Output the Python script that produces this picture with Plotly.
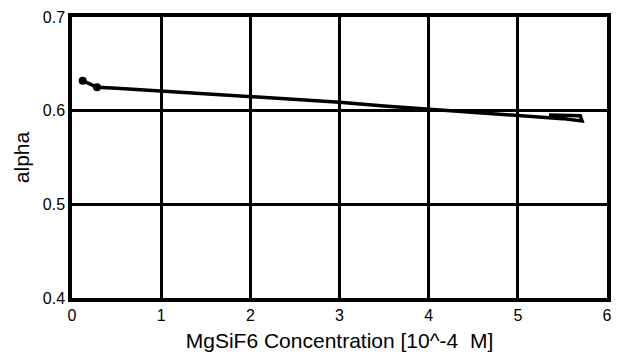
import plotly.graph_objects as go

# MgSiF6 concentration (10^-4 M) and measured alpha; the tail runs out and back
concentration = [0.12, 0.28, 0.5, 1.0, 1.5, 2.0, 2.5, 3.0, 3.5, 4.0, 4.5, 5.0, 5.5, 5.72, 5.70, 5.35]
alpha = [0.632, 0.625, 0.624, 0.621, 0.618, 0.615, 0.612, 0.609, 0.605, 0.6015, 0.598, 0.595, 0.5915, 0.589, 0.5945, 0.5955]

# points drawn with a dot marker
marked_x = [0.12, 0.28]
marked_y = [0.632, 0.625]

x_ticks = [0, 1, 2, 3, 4, 5, 6]
y_ticks = [0.4, 0.5, 0.6, 0.7]
y_tick_text = ["0.4", "0.5", "0.6", "0.7"]

font = "Liberation Sans, Arial, Helvetica, sans-serif"

fig = go.Figure()
fig.add_trace(go.Scatter(
    x=concentration, y=alpha, mode="lines",
    line=dict(color="black", width=3.5),
    hoverinfo="skip", showlegend=False,
))
fig.add_trace(go.Scatter(
    x=marked_x, y=marked_y, mode="markers",
    marker=dict(color="black", size=8),
    hoverinfo="skip", showlegend=False,
))

fig.update_layout(
    width=621, height=356,
    margin=dict(l=72, r=14, t=17, b=58),
    paper_bgcolor="white", plot_bgcolor="white",
    font=dict(family=font, color="black", size=16),
)
fig.update_xaxes(
    range=[0, 6], tickvals=x_ticks, ticks="", automargin=False,
    showgrid=True, gridcolor="black", gridwidth=3,
    showline=True, linecolor="black", linewidth=3.5, mirror=True,
    zeroline=False, tickfont=dict(size=16),
    title=dict(text="MgSiF6 Concentration [10^-4  M]", font=dict(size=21), standoff=11),
)
fig.update_yaxes(
    range=[0.4, 0.7], tickvals=y_ticks, ticktext=y_tick_text, ticks="", automargin=False,
    showgrid=True, gridcolor="black", gridwidth=2.5,
    showline=True, linecolor="black", linewidth=3.5, mirror=True,
    zeroline=False, tickfont=dict(size=16),
    title=dict(text="alpha", font=dict(size=21), standoff=8),
)

fig.write_html("out.html")
